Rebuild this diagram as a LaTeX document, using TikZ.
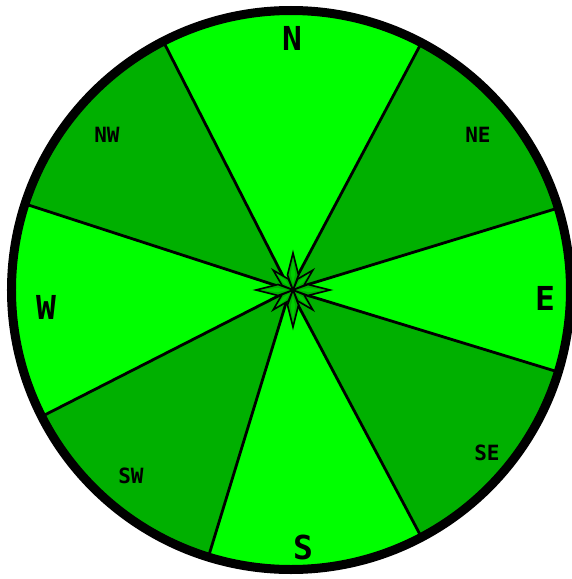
\documentclass[tikz,border=0pt]{standalone}
\usepackage{fontspec}
\newfontfamily\monofont{DejaVu Sans Mono}
\definecolor{litegreen}{RGB}{0,255,0}
\definecolor{darkgreen}{RGB}{0,176,0}
\definecolor{midgreen}{RGB}{0,205,0}

\begin{document}
\begin{tikzpicture}[x=1pt,y=1pt,
  big/.style={font=\monofont\bfseries\fontsize{33}{33}\selectfont,inner sep=0pt},
  sml/.style={font=\monofont\bfseries\fontsize{21}{21}\selectfont,inner sep=0pt},
  spike/.style={draw,line width=1.6pt,fill=darkgreen,line join=miter},
  glint/.style={fill=midgreen}]
  \useasboundingbox (-290,-289) rectangle (281,290);
  \coordinate (ctr) at (0,0);
  % ---------- sectors
  \begin{scope}
    \clip (1,0) circle (280);
    \foreach \a/\b/\c in {-17/17/litegreen,17/62/darkgreen,62/117/litegreen,117/162/darkgreen,
                          162/207/litegreen,207/253/darkgreen,253/298/litegreen,298/343/darkgreen}
      \fill[\c] (ctr) -- (\a:320) arc[start angle=\a,end angle=\b,radius=320] -- cycle;
    \foreach \a [count=\i] in {17,62,117,162,207,253,298,343} {
      \coordinate (b\i) at (\a:320);
      \draw[line width=2.8pt] (ctr) -- (b\i);
    }
  \end{scope}
  \draw[line width=9pt] (1,0) circle (279.5);
  % ---------- star
  \begin{scope}[shift={(3,0)}]
    \foreach \a in {45,135,225,315} {
      \begin{scope}[rotate=\a]
        \filldraw[spike] (0,0) -- (11,4.5) -- (28,0) -- (11,-4.5) -- cycle;
        \fill[glint] (5,0) -- (12,1.8) -- (23,0) -- (12,-1.8) -- cycle;
      \end{scope}
    }
    \foreach \a in {0,90,180,270} {
      \begin{scope}[rotate=\a]
        \filldraw[spike] (0,0) -- (15,5.5) -- (37,0) -- (15,-5.5) -- cycle;
        \fill[glint] (6,0) -- (16,2.2) -- (31,0) -- (16,-2.2) -- cycle;
      \end{scope}
    }
  \end{scope}
  % ---------- labels
  \node[big] (n) at (2,252) {N};
  \node[big] (e) at (255,-8) {E};
  \node[big] (s) at (13,-257) {S};
  \node[big] (w) at (-244,-17) {W};
  \node[sml] (ne) at (188,155) {NE};
  \node[sml] (se) at (197,-163) {SE};
  \node[sml] (sw) at (-159,-186) {SW};
  \node[sml] (nw) at (-183,155) {NW};
\end{tikzpicture}
\end{document}
